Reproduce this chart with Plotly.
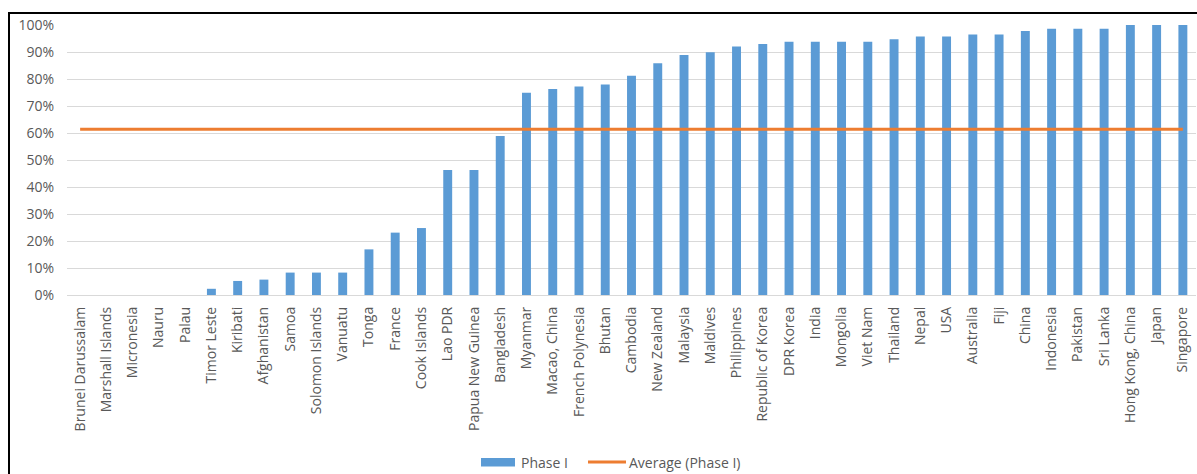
import plotly.graph_objects as go

# Share of target reached per country, Phase I (percent)
countries = [
    "Brunei Darussalam", "Marshall Islands", "Micronesia", "Nauru", "Palau",
    "Timor Leste", "Kiribati", "Afghanistan", "Samoa", "Solomon Islands",
    "Vanuatu", "Tonga", "France", "Cook Islands", "Lao PDR",
    "Papua New Guinea", "Bangladesh", "Myanmar", "Macao, China", "French Polynesia",
    "Bhutan", "Cambodia", "New Zealand", "Malaysia", "Maldives",
    "Philippines", "Republic of Korea", "DPR Korea", "India", "Mongolia",
    "Viet Nam", "Thailand", "Nepal", "USA", "Australia",
    "Fiji", "China", "Indonesia", "Pakistan", "Sri Lanka",
    "Hong Kong, China", "Japan", "Singapore",
]
phase1 = [
    0, 0, 0, 0, 0,
    2.3, 5.2, 5.7, 8.3, 8.3,
    8.3, 16.9, 23.1, 24.8, 46.3,
    46.3, 58.9, 74.9, 76.3, 77.2,
    78.0, 81.2, 85.8, 88.9, 89.9,
    92.0, 93.0, 93.8, 93.8, 93.8,
    93.8, 94.7, 95.7, 95.7, 96.5,
    96.5, 97.8, 98.6, 98.6, 98.6,
    100, 100, 100,
]
average_phase1 = 61.4
y_ticks = [0, 10, 20, 30, 40, 50, 60, 70, 80, 90, 100]
y_tick_labels = ["0%", "10%", "20%", "30%", "40%", "50%",
                 "60%", "70%", "80%", "90%", "100%"]

BLUE = "#5B9BD5"
ORANGE = "#ED7D31"
TEXT = "#595959"
FONT = "Open Sans"

W, H = 1197, 474
L, R, T, B = 67, 1, 25, 179
pw, ph = W - L - R, H - T - B


def px(x):
    return (x - L) / pw


def py(y):
    return (H - B - y) / ph


fig = go.Figure()
fig.add_trace(go.Bar(
    x=countries, y=phase1, name="Phase I",
    marker=dict(color=BLUE, line=dict(width=0)),
    showlegend=False,
))
fig.add_trace(go.Scatter(
    x=countries, y=[average_phase1] * len(countries),
    mode="lines", name="Average (Phase I)",
    line=dict(color=ORANGE, width=3),
    showlegend=False,
))

shapes = [
    # frame edges
    dict(type="line", xref="paper", yref="paper",
         x0=px(9), x1=px(W + 5), y0=py(13), y1=py(13),
         line=dict(color="black", width=2)),
    dict(type="line", xref="paper", yref="paper",
         x0=px(9), x1=px(9), y0=py(12), y1=py(H + 5),
         line=dict(color="black", width=2)),
    # legend keys
    dict(type="rect", xref="paper", yref="paper",
         x0=px(481), x1=px(515), y0=py(458), y1=py(466.5),
         fillcolor=BLUE, line=dict(width=0)),
    dict(type="line", xref="paper", yref="paper",
         x0=px(588), x1=px(626), y0=py(462), y1=py(462),
         line=dict(color=ORANGE, width=3)),
]
annotations = [
    dict(text="Phase I", xref="paper", yref="paper", x=px(519), y=py(462),
         xanchor="left", yanchor="middle", showarrow=False,
         font=dict(family=FONT, size=14, color=TEXT)),
    dict(text="Average (Phase I)", xref="paper", yref="paper", x=px(627), y=py(462),
         xanchor="left", yanchor="middle", showarrow=False,
         font=dict(family=FONT, size=14, color=TEXT)),
]

fig.update_layout(
    width=W, height=H,
    margin=dict(l=L, r=R, t=T, b=B, pad=0),
    paper_bgcolor="white", plot_bgcolor="white",
    bargap=0.66,
    shapes=shapes, annotations=annotations,
    font=dict(family=FONT, size=14, color=TEXT),
    xaxis=dict(
        tickangle=-90, showgrid=False, showline=False, zeroline=False,
        ticks="", ticklabelstandoff=8,
        tickfont=dict(family=FONT, size=14, color=TEXT),
        categoryorder="array", categoryarray=countries,
    ),
    yaxis=dict(
        range=[0, 100], tickmode="array",
        tickvals=y_ticks, ticktext=y_tick_labels,
        showgrid=True, gridcolor="#D9D9D9", gridwidth=1,
        zeroline=True, zerolinecolor="#D9D9D9", zerolinewidth=1,
        showline=False, ticks="", ticklabelstandoff=12,
        tickfont=dict(family=FONT, size=14, color=TEXT),
    ),
)

fig.write_html("out.html")
